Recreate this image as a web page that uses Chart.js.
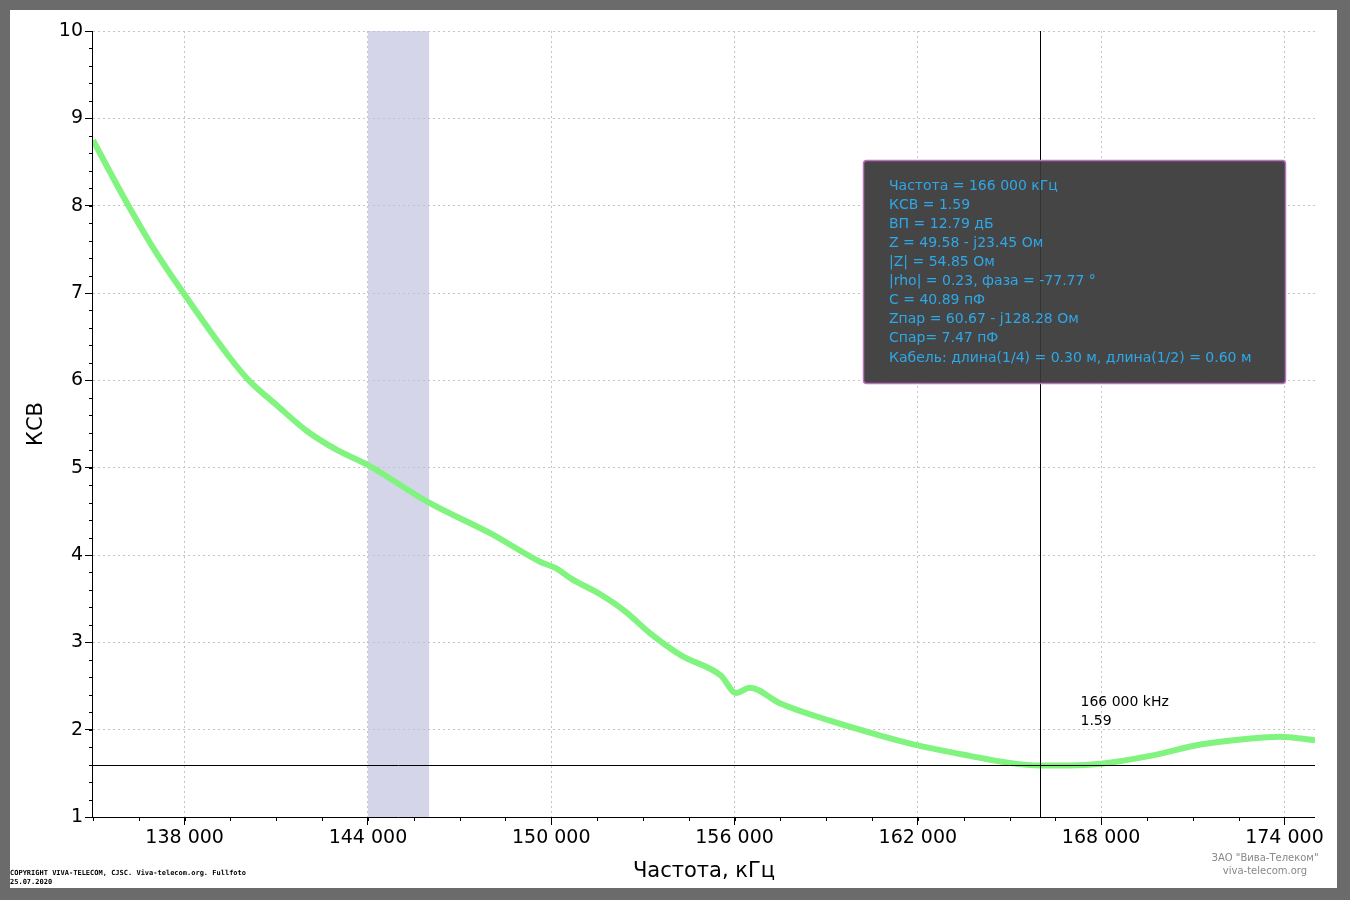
<!DOCTYPE html>
<html><head><meta charset="utf-8">
<script src="https://cdn.jsdelivr.net/npm/chart.js@4.4.1/dist/chart.umd.min.js"></script>
<style>
body{margin:0;background:#6b6b6b;width:1350px;height:900px;position:relative;overflow:hidden}
#wrap{position:absolute;left:10px;top:10px;width:1327px;height:878px;background:#fff}
.cp{position:absolute;left:10px;top:869px;font:bold 7px "DejaVu Sans Mono",monospace;color:#000;line-height:9px}
.wm{position:absolute;left:1190px;top:851px;width:150px;text-align:center;font:10px "DejaVu Sans",sans-serif;color:#888;line-height:13px}
</style></head><body>
<div id="wrap"><canvas id="c" width="1327" height="878"></canvas></div>
<div class="cp">COPYRIGHT VIVA-TELECOM, CJSC. Viva-telecom.org. Fullfoto<br>25.07.2020</div>
<div class="wm">ЗАО "Вива-Телеком"<br>viva-telecom.org</div>
<script>
// частота, кГц и КСВ
const freqs = [135000,136000,137000,138000,139500,140100,141000,142000,143000,144000,146000,148000,149650,150150,150650,151600,152400,153250,154250,155550,156050,156500,157500,159150,160800,162000,163700,165000,166000,167000,168000,169600,171250,172900,173850,175000];
const vswr  = [8.75,8.1,7.5,6.98,6.25,6.0,5.72,5.42,5.2,5.03,4.6,4.25,3.92,3.85,3.73,3.55,3.36,3.1,2.85,2.62,2.42,2.48,2.3,2.1,1.93,1.82,1.7,1.62,1.59,1.59,1.61,1.7,1.83,1.9,1.92,1.88];
const xTicks = [138000,144000,150000,156000,162000,168000,174000];
const yTicks = [1,2,3,4,5,6,7,8,9,10];
const band = [144000,146000];
const marker = {f:166000, v:1.59};
const info = [
  "Частота = 166 000 кГц","КСВ = 1.59","ВП = 12.79 дБ","Z = 49.58 - j23.45 Ом","|Z| = 54.85 Ом",
  "|rho| = 0.23, фаза = -77.77 °","C = 40.89 пФ","Zпар = 60.67 - j128.28 Ом","Cпар= 7.47 пФ",
  "Кабель: длина(1/4) = 0.30 м, длина(1/2) = 0.60 м"
];
const fmt = v => String(v).replace(/\B(?=(\d{3})+(?!\d))/g," ");

const extras = {
  id:"extras",
  beforeDatasetsDraw(ch){
    const {ctx,chartArea:a,scales:{x,y}} = ch;
    ctx.save();
    ctx.fillStyle="rgba(190,190,222,0.65)";
    const b0=x.getPixelForValue(band[0]), b1=x.getPixelForValue(band[1]);
    ctx.fillRect(b0,a.top,b1-b0,a.bottom-a.top);
    // мелкие риски
    ctx.strokeStyle="#000";ctx.lineWidth=1;ctx.beginPath();
    for(let f=135000;f<=175000;f+=1500){const p=Math.round(x.getPixelForValue(f))+0.5;ctx.moveTo(p,a.bottom);ctx.lineTo(p,a.bottom+4);}
    for(let v=1;v<=10;v+=0.2){const p=Math.round(y.getPixelForValue(v))+0.5;ctx.moveTo(a.left,p);ctx.lineTo(a.left-4,p);}
    ctx.moveTo(a.left-0.5,a.top);ctx.lineTo(a.left-0.5,a.bottom);ctx.moveTo(a.left,a.bottom+0.5);ctx.lineTo(a.right,a.bottom+0.5);
    ctx.stroke();
    ctx.restore();
  },
  afterDatasetsDraw(ch){
    const {ctx,chartArea:a,scales:{x,y}} = ch;
    ctx.save();
    const mx=Math.round(x.getPixelForValue(marker.f))+0.5, my=Math.round(y.getPixelForValue(marker.v))+0.5;
    ctx.strokeStyle="#000";ctx.lineWidth=1;ctx.beginPath();
    ctx.moveTo(mx,a.top);ctx.lineTo(mx,a.bottom);ctx.moveTo(a.left,my);ctx.lineTo(a.right,my);ctx.stroke();
    ctx.fillStyle="#000";ctx.font="14px 'DejaVu Sans'";ctx.textBaseline="middle";
    ctx.fillText(fmt(marker.f)+" kHz",mx+40,692);ctx.fillText(String(marker.v),mx+40,711);
    // инфо-блок
    ctx.fillStyle="rgba(55,55,55,0.93)";ctx.strokeStyle="#c070c0";ctx.lineWidth=1.5;
    ctx.beginPath();ctx.roundRect(853.5,150.5,422,223,3);ctx.fill();ctx.stroke();
    ctx.fillStyle="#2fa8e8";ctx.font="14px 'DejaVu Sans'";
    info.forEach((t,i)=>ctx.fillText(t,879,176+i*19.1));
    ctx.restore();
  }
};

new Chart(document.getElementById("c"),{
  type:"line",
  data:{datasets:[{data:freqs.map((f,i)=>({x:f,y:vswr[i]})),borderColor:"#80f47f",borderWidth:6,pointRadius:0,tension:0.4,cubicInterpolationMode:"monotone"}]},
  options:{
    responsive:false,animation:false,
    layout:{padding:{top:21,right:22,left:0,bottom:0}},
    plugins:{legend:{display:false},tooltip:{enabled:false}},
    scales:{
      x:{type:"linear",min:135000,max:175000,
        afterBuildTicks:s=>{s.ticks=xTicks.map(v=>({value:v}));},
        afterFit:s=>{s.height=71;},
        border:{display:false,dash:[2,3]},
        grid:{color:"#c4c4c4",tickColor:"#000",tickLength:8},
        ticks:{color:"#000",font:{family:"DejaVu Sans",size:19},padding:2,callback:v=>fmt(v),maxRotation:0},
        title:{display:true,text:"Частота, кГц",color:"#000",font:{family:"DejaVu Sans",size:21},padding:{top:0}}
      },
      y:{min:1,max:10,
        afterBuildTicks:s=>{s.ticks=yTicks.map(v=>({value:v}));},
        afterFit:s=>{s.width=83;},
        border:{display:false,dash:[2,3]},
        grid:{color:"#c4c4c4",tickColor:"#000",tickLength:8},
        ticks:{color:"#000",font:{family:"DejaVu Sans",size:19},padding:2},
        title:{display:true,text:"КСВ",color:"#000",font:{family:"DejaVu Sans",size:21},padding:{top:14,bottom:2}}
      }
    }
  },
  plugins:[extras]
});
</script>
</body></html>
